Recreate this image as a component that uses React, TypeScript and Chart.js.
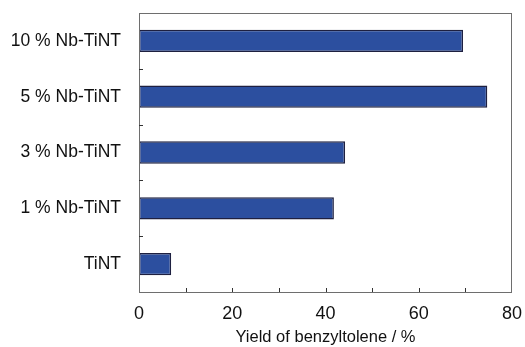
import React, { useEffect, useRef } from "react";
import { Chart, registerables } from "chart.js";

Chart.register(...registerables);

// Catalysts, listed top to bottom
const catalysts = ["10 % Nb-TiNT", "5 % Nb-TiNT", "3 % Nb-TiNT", "1 % Nb-TiNT", "TiNT"];
// Yield of benzyltoluene (%)
const yields = [69.5, 74.7, 44.2, 41.8, 6.9];
// Value axis
const xMin = 0;
const xMax = 80;
const xLabelStep = 20;
const xMinorStep = 10;

const FONT = "'Liberation Sans', Arial, sans-serif";
const FRAME = "#6e6e6e";

// Draws the boxed plot frame with short inward tick marks
const framePlugin = {
  id: "frameTicks",
  afterDatasetsDraw(chart: any) {
    const { ctx, chartArea: a, scales } = chart;
    const x = scales.x;
    const y = scales.y;
    ctx.save();
    ctx.strokeStyle = FRAME;
    ctx.lineWidth = 1;
    ctx.strokeRect(Math.round(a.left) + 0.5, Math.round(a.top) + 0.5, Math.round(a.right - a.left) - 1, Math.round(a.bottom - a.top));
    ctx.strokeStyle = "#333";
    ctx.beginPath();
    for (let v = xMin + xMinorStep; v < xMax; v += xMinorStep) {
      const px = Math.round(x.getPixelForValue(v)) + 0.5;
      ctx.moveTo(px, a.bottom);
      ctx.lineTo(px, a.bottom - 4);
    }
    for (let i = 0; i < catalysts.length - 1; i++) {
      const py = Math.round((y.getPixelForValue(i) + y.getPixelForValue(i + 1)) / 2) + 0.5;
      ctx.moveTo(a.left, py);
      ctx.lineTo(a.left + 4, py);
    }
    ctx.stroke();
    ctx.restore();
  },
};

export default function App() {
  const canvasRef = useRef<HTMLCanvasElement | null>(null);

  useEffect(() => {
    document.body.style.margin = "0";
    const chart = new Chart(canvasRef.current!, {
      type: "bar",
      data: {
        labels: catalysts,
        datasets: [
          {
            data: yields,
            backgroundColor: "#2c4f9f",
            borderColor: "#1e2040",
            borderWidth: 1.5,
            borderSkipped: false,
            barPercentage: 0.4,
            categoryPercentage: 1,
          },
        ],
      },
      options: {
        indexAxis: "y",
        responsive: false,
        animation: false,
        layout: { padding: { left: 0, top: 13, right: 13, bottom: 0 } },
        plugins: { legend: { display: false }, tooltip: { enabled: false } },
        scales: {
          x: {
            min: xMin,
            max: xMax,
            grid: { display: false, drawTicks: false },
            border: { display: false },
            ticks: {
              stepSize: xLabelStep,
              padding: 11,
              color: "#111",
              font: { family: FONT, size: 18 },
            },
            title: {
              display: true,
              text: "Yield of benzyltolene / %",
              color: "#111",
              font: { family: FONT, size: 16.5 },
              padding: { top: 5, bottom: 0 },
            },
            afterFit(scale: any) {
              scale.height = 55;
              scale.paddingLeft = 0;
              scale.paddingRight = 0;
            },
          },
          y: {
            grid: { display: false, drawTicks: false },
            border: { display: false },
            ticks: {
              padding: 18,
              color: "#111",
              font: { family: FONT, size: 17.5 },
            },
            afterFit(scale: any) {
              scale.width = 139;
              scale.paddingTop = 0;
              scale.paddingBottom = 0;
            },
          },
        },
      },
      plugins: [framePlugin],
    });
    return () => chart.destroy();
  }, []);

  return (
    <div style={{ width: 525, height: 347, background: "#fff" }}>
      <canvas ref={canvasRef} width={525} height={347} />
    </div>
  );
}
